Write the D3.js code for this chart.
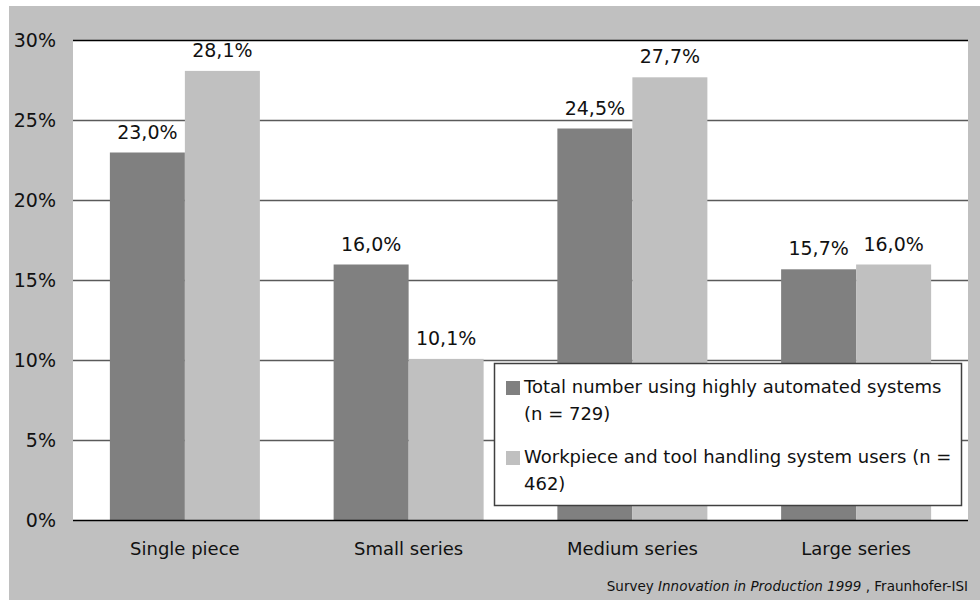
<!DOCTYPE html>
<html>
<head>
<meta charset="utf-8">
<script src="https://cdn.jsdelivr.net/npm/d3@7"></script>
<style>
  body { margin: 0; background: #ffffff; }
  svg { display: block; }
  text { font-family: "DejaVu Sans", sans-serif; fill: #111111; }
</style>
</head>
<body>
<div id="chart"></div>
<script>
// Data
var categories = ["Single piece", "Small series", "Medium series", "Large series"];
var seriesNames = ["Total number using highly automated systems (n = 729)",
                   "Workpiece and tool handling system users (n = 462)"];
var totalValues = [23.0, 16.0, 24.5, 15.7];
var handlingValues = [28.1, 10.1, 27.7, 16.0];
var yTicks = [0, 5, 10, 15, 20, 25, 30];

var legendLines = [
  ["Total number using highly automated systems", "(n = 729)"],
  ["Workpiece and tool handling system users (n =", "462)"]
];

var width = 980, height = 601;
var plot = { left: 73, right: 968, top: 40.5, bottom: 520.5 };
var colors = ["#808080", "#c0c0c0"];

var svg = d3.select("#chart").append("svg")
  .attr("width", width)
  .attr("height", height);

// gray outer background
svg.append("rect")
  .attr("x", 9).attr("y", 6)
  .attr("width", width - 9).attr("height", 594)
  .style("fill", "#c0c0c0");

// white plot area
svg.append("rect")
  .attr("x", plot.left).attr("y", plot.top)
  .attr("width", plot.right - plot.left).attr("height", plot.bottom - plot.top)
  .style("fill", "#ffffff");

var x0 = d3.scaleBand()
  .domain(categories)
  .range([plot.left, plot.right])
  .paddingInner(0.3296)
  .paddingOuter(0.1648);

var x1 = d3.scaleBand()
  .domain([0, 1])
  .range([0, x0.bandwidth()]);

var y = d3.scaleLinear()
  .domain([0, 30])
  .range([plot.bottom, plot.top]);

// gridlines
svg.append("g").selectAll("line")
  .data(yTicks.filter(function (d) { return d > 0; })).enter()
  .append("line")
  .attr("x1", plot.left).attr("x2", plot.right)
  .attr("y1", function (d) { return y(d); })
  .attr("y2", function (d) { return y(d); })
  .style("stroke", function (d) { return d == 30 ? "#000000" : "#5a5a5a"; })
  .style("stroke-width", 1.5);

// bars
var rows = categories.map(function (c, i) {
  return { cat: c, values: [totalValues[i], handlingValues[i]] };
});

var groups = svg.append("g").selectAll("g")
  .data(rows).enter()
  .append("g")
  .attr("transform", function (d) { return "translate(" + x0(d.cat) + ",0)"; });

groups.selectAll("rect")
  .data(function (d) { return d.values.map(function (v, k) { return { k: k, v: v }; }); })
  .enter().append("rect")
  .attr("x", function (d) { return x1(d.k); })
  .attr("width", x1.bandwidth())
  .attr("y", function (d) { return y(d.v); })
  .attr("height", function (d) { return y(0) - y(d.v); })
  .style("fill", function (d) { return colors[d.k]; });

groups.selectAll("text")
  .data(function (d) { return d.values.map(function (v, k) { return { k: k, v: v }; }); })
  .enter().append("text")
  .attr("x", function (d) { return x1(d.k) + x1.bandwidth() / 2; })
  .attr("y", function (d) { return y(d.v) - 14; })
  .attr("text-anchor", "middle")
  .style("font-size", "19px")
  .text(function (d) { return d.v.toFixed(1).replace(".", ",") + "%"; });

// x axis line
svg.append("line")
  .attr("x1", plot.left).attr("x2", plot.right)
  .attr("y1", y(0)).attr("y2", y(0))
  .style("stroke", "#000000")
  .style("stroke-width", 1.5);

// y axis labels
var yAxis = d3.axisLeft(y).tickValues(yTicks).tickSize(0).tickPadding(17)
  .tickFormat(function (d) { return d + "%"; });
var yg = svg.append("g").attr("transform", "translate(" + plot.left + ",0)").call(yAxis);
yg.select(".domain").remove();
yg.selectAll("text").style("font-size", "19px").style("font-family", "DejaVu Sans").attr("fill", "#111111");

// x axis labels
var xAxis = d3.axisBottom(x0).tickSize(0).tickPadding(22);
var xg = svg.append("g").attr("transform", "translate(0," + y(0) + ")").call(xAxis);
xg.select(".domain").remove();
xg.selectAll("text").style("font-size", "18px").style("font-family", "DejaVu Sans").attr("fill", "#111111");

// legend
var legend = svg.append("g");
legend.append("rect")
  .attr("x", 494.5).attr("y", 363.5)
  .attr("width", 467).attr("height", 142)
  .style("fill", "#ffffff")
  .style("stroke", "#404040")
  .style("stroke-width", 1.5);

var lg = legend.selectAll("g.item")
  .data(legendLines).enter()
  .append("g").attr("class", "item")
  .attr("transform", function (d, i) { return "translate(506," + (i == 0 ? 381 : 451) + ")"; });

lg.append("rect")
  .attr("width", 14).attr("height", 14)
  .style("fill", function (d, i) { return colors[i]; });

lg.selectAll("text")
  .data(function (d) { return d; }).enter()
  .append("text")
  .attr("x", 18)
  .attr("y", function (d, j) { return 12 + j * 27; })
  .style("font-size", "18px")
  .text(function (d) { return d; });

// source note
var note = svg.append("text")
  .attr("x", 968).attr("y", 591)
  .attr("text-anchor", "end")
  .style("font-size", "13.5px");
note.append("tspan").text("Survey ");
note.append("tspan").style("font-style", "italic").text("Innovation in Production 1999");
note.append("tspan").text(" , Fraunhofer-ISI");
</script>
</body>
</html>
